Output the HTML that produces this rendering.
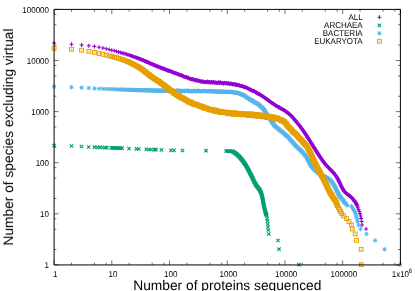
<!DOCTYPE html>
<html><head><meta charset="utf-8"><title>plot</title><style>html,body{margin:0;padding:0;background:#fff}svg{display:block}</style></head><body>
<svg width="415" height="291" viewBox="0 0 415 291">
<defs>
<g id="m_all" stroke="#9400D3" stroke-width="1.1" fill="none"><path d="M-2 0H2M0 -2V2"/></g>
<g id="m_arc" stroke="#009E73" stroke-width="1.15" fill="none"><path d="M-1.7 -1.7L1.7 1.7M-1.7 1.7L1.7 -1.7"/></g>
<g id="m_bac" stroke="#56B4E9" stroke-width="1" fill="none"><path d="M-2.1 0H2.1M0 -2.1V2.1M-1.7 -1.7L1.7 1.7M-1.7 1.7L1.7 -1.7"/></g>
<g id="m_euk" stroke="#E69F00" stroke-width="1" fill="none"><rect x="-1.9" y="-1.9" width="3.8" height="3.8"/><rect x="-0.5" y="-0.5" width="1" height="1" fill="#E69F00" stroke="none"/></g>
</defs>
<rect width="415" height="291" fill="#fff"/>
<path d="M54.10 264.95v-4.6M54.10 9.4v4.6M71.47 264.95v-2.3M71.47 9.4v2.3M94.44 264.95v-2.3M94.44 9.4v2.3M106.22 264.95v-2.3M106.22 9.4v2.3M111.82 264.95v-4.6M111.82 9.4v4.6M129.19 264.95v-2.3M129.19 9.4v2.3M152.16 264.95v-2.3M152.16 9.4v2.3M163.94 264.95v-2.3M163.94 9.4v2.3M169.53 264.95v-4.6M169.53 9.4v4.6M186.91 264.95v-2.3M186.91 9.4v2.3M209.88 264.95v-2.3M209.88 9.4v2.3M221.66 264.95v-2.3M221.66 9.4v2.3M227.25 264.95v-4.6M227.25 9.4v4.6M244.62 264.95v-2.3M244.62 9.4v2.3M267.59 264.95v-2.3M267.59 9.4v2.3M279.37 264.95v-2.3M279.37 9.4v2.3M284.97 264.95v-4.6M284.97 9.4v4.6M302.34 264.95v-2.3M302.34 9.4v2.3M325.31 264.95v-2.3M325.31 9.4v2.3M337.09 264.95v-2.3M337.09 9.4v2.3M342.68 264.95v-4.6M342.68 9.4v4.6M360.06 264.95v-2.3M360.06 9.4v2.3M383.03 264.95v-2.3M383.03 9.4v2.3M394.81 264.95v-2.3M394.81 9.4v2.3M400.40 264.95v-4.6M400.40 9.4v4.6M54.1 264.95h4.6M400.4 264.95h-4.6M54.1 249.56h2.3M400.4 249.56h-2.3M54.1 229.23h2.3M400.4 229.23h-2.3M54.1 218.79h2.3M400.4 218.79h-2.3M54.1 213.84h4.6M400.4 213.84h-4.6M54.1 198.45h2.3M400.4 198.45h-2.3M54.1 178.12h2.3M400.4 178.12h-2.3M54.1 167.68h2.3M400.4 167.68h-2.3M54.1 162.73h4.6M400.4 162.73h-4.6M54.1 147.34h2.3M400.4 147.34h-2.3M54.1 127.01h2.3M400.4 127.01h-2.3M54.1 116.57h2.3M400.4 116.57h-2.3M54.1 111.62h4.6M400.4 111.62h-4.6M54.1 96.23h2.3M400.4 96.23h-2.3M54.1 75.90h2.3M400.4 75.90h-2.3M54.1 65.46h2.3M400.4 65.46h-2.3M54.1 60.51h4.6M400.4 60.51h-4.6M54.1 45.12h2.3M400.4 45.12h-2.3M54.1 24.79h2.3M400.4 24.79h-2.3M54.1 14.35h2.3M400.4 14.35h-2.3M54.1 9.40h4.6M400.4 9.40h-4.6" stroke="#000" stroke-opacity="0.8" stroke-width="0.7" fill="none"/>
<g><use href="#m_all" x="54.1" y="43.0"/><use href="#m_all" x="71.5" y="44.3"/><use href="#m_all" x="81.6" y="45.0"/><use href="#m_all" x="88.8" y="45.8"/><use href="#m_all" x="94.4" y="46.4"/><use href="#m_all" x="99.0" y="47.2"/><use href="#m_all" x="102.9" y="48.0"/><use href="#m_all" x="106.2" y="48.8"/><use href="#m_all" x="109.2" y="49.5"/><use href="#m_all" x="111.8" y="50.2"/><use href="#m_all" x="114.2" y="50.8"/><use href="#m_all" x="116.4" y="51.4"/><use href="#m_all" x="118.4" y="51.9"/><use href="#m_all" x="120.3" y="52.4"/><use href="#m_all" x="122.0" y="52.9"/><use href="#m_all" x="123.6" y="53.4"/><use href="#m_all" x="125.1" y="53.8"/><use href="#m_all" x="126.6" y="54.3"/><use href="#m_all" x="127.9" y="54.7"/><use href="#m_all" x="129.2" y="55.1"/><use href="#m_all" x="130.4" y="55.5"/><use href="#m_all" x="131.6" y="55.9"/><use href="#m_all" x="132.7" y="56.3"/><use href="#m_all" x="133.8" y="56.7"/><use href="#m_all" x="134.8" y="57.1"/><use href="#m_all" x="135.8" y="57.4"/><use href="#m_all" x="136.7" y="57.8"/><use href="#m_all" x="137.6" y="58.1"/><use href="#m_all" x="138.5" y="58.4"/><use href="#m_all" x="139.4" y="58.8"/><use href="#m_all" x="140.2" y="59.1"/><use href="#m_all" x="141.0" y="59.4"/><use href="#m_all" x="141.7" y="59.7"/><use href="#m_all" x="142.5" y="60.0"/><use href="#m_all" x="143.2" y="60.3"/><use href="#m_all" x="143.9" y="60.6"/><use href="#m_all" x="144.6" y="60.9"/><use href="#m_all" x="145.2" y="61.2"/><use href="#m_all" x="145.9" y="61.5"/><use href="#m_all" x="146.5" y="61.8"/><use href="#m_all" x="147.2" y="62.0"/><use href="#m_all" x="147.8" y="62.3"/><use href="#m_all" x="148.5" y="62.6"/><use href="#m_all" x="149.1" y="62.9"/><use href="#m_all" x="149.8" y="63.2"/><use href="#m_all" x="150.4" y="63.5"/><use href="#m_all" x="151.1" y="63.8"/><use href="#m_all" x="151.7" y="64.0"/><use href="#m_all" x="152.4" y="64.2"/><use href="#m_all" x="153.0" y="64.5"/><use href="#m_all" x="153.7" y="65.0"/><use href="#m_all" x="154.3" y="65.0"/><use href="#m_all" x="155.0" y="65.4"/><use href="#m_all" x="155.6" y="65.8"/><use href="#m_all" x="156.3" y="65.8"/><use href="#m_all" x="157.0" y="66.2"/><use href="#m_all" x="157.7" y="66.7"/><use href="#m_all" x="158.4" y="66.6"/><use href="#m_all" x="159.1" y="67.1"/><use href="#m_all" x="159.8" y="67.5"/><use href="#m_all" x="160.5" y="67.4"/><use href="#m_all" x="161.2" y="67.9"/><use href="#m_all" x="161.9" y="68.2"/><use href="#m_all" x="162.6" y="68.5"/><use href="#m_all" x="163.3" y="68.6"/><use href="#m_all" x="164.0" y="68.7"/><use href="#m_all" x="164.7" y="69.2"/><use href="#m_all" x="165.4" y="69.4"/><use href="#m_all" x="166.1" y="69.7"/><use href="#m_all" x="166.8" y="69.9"/><use href="#m_all" x="167.5" y="70.4"/><use href="#m_all" x="168.2" y="70.7"/><use href="#m_all" x="168.9" y="70.6"/><use href="#m_all" x="169.6" y="71.1"/><use href="#m_all" x="170.3" y="71.1"/><use href="#m_all" x="171.0" y="71.5"/><use href="#m_all" x="171.7" y="71.7"/><use href="#m_all" x="172.4" y="72.2"/><use href="#m_all" x="173.1" y="72.2"/><use href="#m_all" x="173.8" y="72.5"/><use href="#m_all" x="174.5" y="73.0"/><use href="#m_all" x="175.2" y="73.0"/><use href="#m_all" x="175.9" y="73.6"/><use href="#m_all" x="176.6" y="73.4"/><use href="#m_all" x="177.3" y="74.0"/><use href="#m_all" x="178.0" y="74.1"/><use href="#m_all" x="178.7" y="74.4"/><use href="#m_all" x="179.4" y="74.8"/><use href="#m_all" x="180.1" y="75.0"/><use href="#m_all" x="180.8" y="75.2"/><use href="#m_all" x="181.5" y="75.2"/><use href="#m_all" x="182.2" y="75.5"/><use href="#m_all" x="182.9" y="76.2"/><use href="#m_all" x="183.6" y="76.3"/><use href="#m_all" x="184.3" y="76.7"/><use href="#m_all" x="185.0" y="77.1"/><use href="#m_all" x="185.7" y="77.2"/><use href="#m_all" x="186.4" y="77.0"/><use href="#m_all" x="187.1" y="77.4"/><use href="#m_all" x="187.8" y="77.9"/><use href="#m_all" x="188.5" y="77.8"/><use href="#m_all" x="189.2" y="78.6"/><use href="#m_all" x="189.9" y="78.8"/><use href="#m_all" x="190.6" y="78.9"/><use href="#m_all" x="191.3" y="78.9"/><use href="#m_all" x="192.0" y="79.4"/><use href="#m_all" x="192.7" y="79.1"/><use href="#m_all" x="193.4" y="79.4"/><use href="#m_all" x="194.1" y="79.8"/><use href="#m_all" x="194.8" y="80.2"/><use href="#m_all" x="195.5" y="80.2"/><use href="#m_all" x="196.2" y="80.1"/><use href="#m_all" x="196.9" y="80.5"/><use href="#m_all" x="197.6" y="80.6"/><use href="#m_all" x="198.3" y="80.8"/><use href="#m_all" x="199.0" y="80.8"/><use href="#m_all" x="199.7" y="81.1"/><use href="#m_all" x="200.4" y="81.2"/><use href="#m_all" x="201.1" y="81.6"/><use href="#m_all" x="201.8" y="81.7"/><use href="#m_all" x="202.5" y="81.5"/><use href="#m_all" x="203.2" y="81.6"/><use href="#m_all" x="203.9" y="81.9"/><use href="#m_all" x="204.6" y="82.0"/><use href="#m_all" x="205.3" y="81.9"/><use href="#m_all" x="206.0" y="82.1"/><use href="#m_all" x="206.7" y="82.3"/><use href="#m_all" x="207.4" y="81.6"/><use href="#m_all" x="208.1" y="82.3"/><use href="#m_all" x="208.8" y="81.9"/><use href="#m_all" x="209.5" y="82.1"/><use href="#m_all" x="210.2" y="82.4"/><use href="#m_all" x="210.9" y="82.4"/><use href="#m_all" x="211.6" y="82.0"/><use href="#m_all" x="212.3" y="82.4"/><use href="#m_all" x="213.0" y="82.0"/><use href="#m_all" x="213.7" y="82.3"/><use href="#m_all" x="214.4" y="82.7"/><use href="#m_all" x="215.1" y="82.4"/><use href="#m_all" x="215.8" y="82.6"/><use href="#m_all" x="216.5" y="82.8"/><use href="#m_all" x="217.2" y="82.9"/><use href="#m_all" x="217.9" y="82.9"/><use href="#m_all" x="218.6" y="82.3"/><use href="#m_all" x="219.3" y="82.7"/><use href="#m_all" x="220.0" y="82.8"/><use href="#m_all" x="220.7" y="82.5"/><use href="#m_all" x="221.4" y="82.9"/><use href="#m_all" x="222.1" y="83.0"/><use href="#m_all" x="222.8" y="83.3"/><use href="#m_all" x="223.5" y="83.4"/><use href="#m_all" x="224.2" y="82.8"/><use href="#m_all" x="224.9" y="83.0"/><use href="#m_all" x="225.6" y="83.4"/><use href="#m_all" x="226.3" y="83.0"/><use href="#m_all" x="227.0" y="83.2"/><use href="#m_all" x="227.7" y="83.5"/><use href="#m_all" x="228.4" y="83.2"/><use href="#m_all" x="229.1" y="83.8"/><use href="#m_all" x="229.8" y="83.9"/><use href="#m_all" x="230.5" y="83.4"/><use href="#m_all" x="231.2" y="83.8"/><use href="#m_all" x="231.9" y="84.1"/><use href="#m_all" x="232.6" y="84.4"/><use href="#m_all" x="233.3" y="83.9"/><use href="#m_all" x="234.0" y="83.9"/><use href="#m_all" x="234.7" y="84.6"/><use href="#m_all" x="235.4" y="84.8"/><use href="#m_all" x="236.1" y="84.4"/><use href="#m_all" x="236.8" y="84.7"/><use href="#m_all" x="237.5" y="85.1"/><use href="#m_all" x="238.2" y="85.3"/><use href="#m_all" x="238.9" y="85.0"/><use href="#m_all" x="239.6" y="85.6"/><use href="#m_all" x="240.3" y="85.9"/><use href="#m_all" x="241.0" y="85.9"/><use href="#m_all" x="241.7" y="85.9"/><use href="#m_all" x="242.4" y="86.1"/><use href="#m_all" x="243.1" y="86.5"/><use href="#m_all" x="243.8" y="87.2"/><use href="#m_all" x="244.5" y="86.9"/><use href="#m_all" x="245.2" y="87.1"/><use href="#m_all" x="245.9" y="87.6"/><use href="#m_all" x="246.5" y="87.7"/><use href="#m_all" x="247.2" y="88.0"/><use href="#m_all" x="247.8" y="88.2"/><use href="#m_all" x="248.5" y="88.8"/><use href="#m_all" x="249.1" y="89.2"/><use href="#m_all" x="249.8" y="89.4"/><use href="#m_all" x="250.4" y="89.4"/><use href="#m_all" x="251.1" y="89.9"/><use href="#m_all" x="251.7" y="90.3"/><use href="#m_all" x="252.4" y="90.8"/><use href="#m_all" x="253.0" y="91.2"/><use href="#m_all" x="253.7" y="91.0"/><use href="#m_all" x="254.3" y="91.1"/><use href="#m_all" x="255.0" y="92.0"/><use href="#m_all" x="255.6" y="92.4"/><use href="#m_all" x="256.3" y="92.4"/><use href="#m_all" x="256.9" y="93.0"/><use href="#m_all" x="257.6" y="93.4"/><use href="#m_all" x="258.2" y="93.6"/><use href="#m_all" x="258.8" y="94.2"/><use href="#m_all" x="259.4" y="94.0"/><use href="#m_all" x="260.0" y="94.6"/><use href="#m_all" x="260.6" y="95.0"/><use href="#m_all" x="261.2" y="95.3"/><use href="#m_all" x="261.8" y="96.1"/><use href="#m_all" x="262.4" y="96.0"/><use href="#m_all" x="263.0" y="96.7"/><use href="#m_all" x="263.6" y="96.8"/><use href="#m_all" x="264.2" y="97.4"/><use href="#m_all" x="264.8" y="97.8"/><use href="#m_all" x="265.4" y="98.1"/><use href="#m_all" x="266.0" y="98.7"/><use href="#m_all" x="266.6" y="99.1"/><use href="#m_all" x="267.2" y="99.5"/><use href="#m_all" x="267.8" y="100.1"/><use href="#m_all" x="268.4" y="100.2"/><use href="#m_all" x="269.0" y="100.7"/><use href="#m_all" x="269.6" y="101.2"/><use href="#m_all" x="270.2" y="101.7"/><use href="#m_all" x="270.8" y="102.0"/><use href="#m_all" x="271.4" y="102.8"/><use href="#m_all" x="272.0" y="103.2"/><use href="#m_all" x="272.6" y="103.2"/><use href="#m_all" x="273.2" y="103.8"/><use href="#m_all" x="273.8" y="104.1"/><use href="#m_all" x="274.4" y="104.6"/><use href="#m_all" x="275.0" y="104.9"/><use href="#m_all" x="275.6" y="105.4"/><use href="#m_all" x="276.2" y="106.0"/><use href="#m_all" x="276.9" y="106.1"/><use href="#m_all" x="277.5" y="106.6"/><use href="#m_all" x="278.2" y="106.9"/><use href="#m_all" x="278.8" y="107.4"/><use href="#m_all" x="279.5" y="107.3"/><use href="#m_all" x="280.1" y="108.1"/><use href="#m_all" x="280.8" y="108.6"/><use href="#m_all" x="281.4" y="108.7"/><use href="#m_all" x="282.1" y="108.9"/><use href="#m_all" x="282.7" y="109.5"/><use href="#m_all" x="283.4" y="109.9"/><use href="#m_all" x="284.0" y="110.2"/><use href="#m_all" x="284.6" y="110.3"/><use href="#m_all" x="285.2" y="111.1"/><use href="#m_all" x="285.8" y="111.5"/><use href="#m_all" x="286.4" y="111.7"/><use href="#m_all" x="287.0" y="112.2"/><use href="#m_all" x="287.6" y="112.4"/><use href="#m_all" x="288.2" y="113.3"/><use href="#m_all" x="288.7" y="113.7"/><use href="#m_all" x="289.3" y="114.1"/><use href="#m_all" x="289.8" y="114.6"/><use href="#m_all" x="290.4" y="114.9"/><use href="#m_all" x="290.9" y="115.5"/><use href="#m_all" x="291.4" y="115.9"/><use href="#m_all" x="291.9" y="116.6"/><use href="#m_all" x="292.4" y="116.9"/><use href="#m_all" x="292.9" y="117.8"/><use href="#m_all" x="293.4" y="118.2"/><use href="#m_all" x="293.9" y="118.8"/><use href="#m_all" x="294.4" y="119.2"/><use href="#m_all" x="294.9" y="120.0"/><use href="#m_all" x="295.3" y="120.6"/><use href="#m_all" x="295.8" y="121.1"/><use href="#m_all" x="296.2" y="121.5"/><use href="#m_all" x="296.7" y="122.2"/><use href="#m_all" x="297.1" y="122.6"/><use href="#m_all" x="297.6" y="123.3"/><use href="#m_all" x="298.0" y="123.8"/><use href="#m_all" x="298.5" y="124.3"/><use href="#m_all" x="298.9" y="124.9"/><use href="#m_all" x="299.4" y="125.5"/><use href="#m_all" x="299.8" y="126.0"/><use href="#m_all" x="300.3" y="126.8"/><use href="#m_all" x="300.7" y="127.2"/><use href="#m_all" x="301.2" y="127.9"/><use href="#m_all" x="301.6" y="128.5"/><use href="#m_all" x="302.1" y="128.9"/><use href="#m_all" x="302.5" y="129.7"/><use href="#m_all" x="303.0" y="130.3"/><use href="#m_all" x="303.4" y="131.0"/><use href="#m_all" x="303.8" y="131.6"/><use href="#m_all" x="304.2" y="132.1"/><use href="#m_all" x="304.6" y="132.8"/><use href="#m_all" x="305.0" y="133.2"/><use href="#m_all" x="305.4" y="133.9"/><use href="#m_all" x="305.8" y="134.5"/><use href="#m_all" x="306.2" y="135.0"/><use href="#m_all" x="306.6" y="135.8"/><use href="#m_all" x="307.0" y="136.4"/><use href="#m_all" x="307.4" y="137.1"/><use href="#m_all" x="307.8" y="137.6"/><use href="#m_all" x="308.2" y="138.2"/><use href="#m_all" x="308.6" y="139.0"/><use href="#m_all" x="309.0" y="139.4"/><use href="#m_all" x="309.4" y="140.0"/><use href="#m_all" x="309.8" y="140.8"/><use href="#m_all" x="310.2" y="141.3"/><use href="#m_all" x="310.6" y="142.0"/><use href="#m_all" x="311.0" y="142.7"/><use href="#m_all" x="311.4" y="143.3"/><use href="#m_all" x="311.8" y="144.0"/><use href="#m_all" x="312.2" y="144.6"/><use href="#m_all" x="312.6" y="145.2"/><use href="#m_all" x="313.0" y="145.8"/><use href="#m_all" x="313.4" y="146.5"/><use href="#m_all" x="313.8" y="147.3"/><use href="#m_all" x="314.2" y="147.8"/><use href="#m_all" x="314.6" y="148.4"/><use href="#m_all" x="315.0" y="149.1"/><use href="#m_all" x="315.4" y="149.8"/><use href="#m_all" x="315.8" y="150.3"/><use href="#m_all" x="316.2" y="151.1"/><use href="#m_all" x="316.6" y="151.6"/><use href="#m_all" x="317.0" y="152.4"/><use href="#m_all" x="317.4" y="152.9"/><use href="#m_all" x="317.8" y="153.4"/><use href="#m_all" x="318.2" y="154.3"/><use href="#m_all" x="318.6" y="154.7"/><use href="#m_all" x="319.0" y="155.4"/><use href="#m_all" x="319.4" y="156.0"/><use href="#m_all" x="319.8" y="156.5"/><use href="#m_all" x="320.2" y="157.1"/><use href="#m_all" x="320.6" y="157.7"/><use href="#m_all" x="321.0" y="158.3"/><use href="#m_all" x="321.4" y="158.9"/><use href="#m_all" x="321.9" y="159.5"/><use href="#m_all" x="322.3" y="160.4"/><use href="#m_all" x="322.8" y="160.8"/><use href="#m_all" x="323.2" y="161.5"/><use href="#m_all" x="323.7" y="162.0"/><use href="#m_all" x="324.1" y="162.6"/><use href="#m_all" x="324.6" y="163.3"/><use href="#m_all" x="325.0" y="163.9"/><use href="#m_all" x="325.5" y="164.4"/><use href="#m_all" x="326.0" y="164.8"/><use href="#m_all" x="326.5" y="165.7"/><use href="#m_all" x="327.0" y="165.9"/><use href="#m_all" x="327.5" y="166.5"/><use href="#m_all" x="328.0" y="167.1"/><use href="#m_all" x="328.5" y="167.7"/><use href="#m_all" x="329.0" y="168.2"/><use href="#m_all" x="329.5" y="168.6"/><use href="#m_all" x="330.0" y="169.1"/><use href="#m_all" x="330.5" y="169.7"/><use href="#m_all" x="331.0" y="170.3"/><use href="#m_all" x="331.5" y="170.8"/><use href="#m_all" x="332.0" y="171.3"/><use href="#m_all" x="332.5" y="171.6"/><use href="#m_all" x="333.0" y="172.2"/><use href="#m_all" x="333.5" y="172.8"/><use href="#m_all" x="334.0" y="173.4"/><use href="#m_all" x="334.5" y="174.1"/><use href="#m_all" x="334.9" y="174.5"/><use href="#m_all" x="335.4" y="175.2"/><use href="#m_all" x="335.8" y="175.7"/><use href="#m_all" x="336.3" y="176.5"/><use href="#m_all" x="336.7" y="177.0"/><use href="#m_all" x="337.1" y="177.7"/><use href="#m_all" x="337.4" y="178.2"/><use href="#m_all" x="337.8" y="178.9"/><use href="#m_all" x="338.1" y="179.7"/><use href="#m_all" x="338.5" y="180.3"/><use href="#m_all" x="338.8" y="181.1"/><use href="#m_all" x="339.2" y="181.8"/><use href="#m_all" x="339.5" y="182.4"/><use href="#m_all" x="339.9" y="183.3"/><use href="#m_all" x="340.2" y="183.8"/><use href="#m_all" x="340.5" y="184.7"/><use href="#m_all" x="340.9" y="185.3"/><use href="#m_all" x="341.2" y="186.1"/><use href="#m_all" x="341.6" y="186.7"/><use href="#m_all" x="341.9" y="187.4"/><use href="#m_all" x="342.3" y="188.2"/><use href="#m_all" x="342.6" y="188.8"/><use href="#m_all" x="343.0" y="189.4"/><use href="#m_all" x="343.4" y="190.1"/><use href="#m_all" x="343.8" y="190.6"/><use href="#m_all" x="344.2" y="191.4"/><use href="#m_all" x="344.7" y="192.0"/><use href="#m_all" x="345.2" y="192.3"/><use href="#m_all" x="345.7" y="192.9"/><use href="#m_all" x="346.3" y="193.3"/><use href="#m_all" x="346.9" y="194.0"/><use href="#m_all" x="347.5" y="194.0"/><use href="#m_all" x="348.1" y="194.7"/><use href="#m_all" x="348.7" y="195.3"/><use href="#m_all" x="349.3" y="195.7"/><use href="#m_all" x="349.9" y="195.8"/><use href="#m_all" x="350.4" y="196.6"/><use href="#m_all" x="351.0" y="196.9"/><use href="#m_all" x="351.5" y="197.6"/><use href="#m_all" x="352.0" y="198.0"/><use href="#m_all" x="352.5" y="198.4"/><use href="#m_all" x="353.0" y="199.2"/><use href="#m_all" x="353.4" y="199.7"/><use href="#m_all" x="353.9" y="200.3"/><use href="#m_all" x="354.3" y="200.9"/><use href="#m_all" x="354.8" y="201.4"/><use href="#m_all" x="355.2" y="201.9"/><use href="#m_all" x="355.6" y="202.5"/><use href="#m_all" x="356.0" y="203.3"/><use href="#m_all" x="356.3" y="203.9"/><use href="#m_all" x="356.7" y="204.6"/><use href="#m_all" x="357.0" y="205.3"/><use href="#m_all" x="357.3" y="205.9"/><use href="#m_all" x="357.8" y="207.8"/><use href="#m_all" x="358.6" y="209.6"/><use href="#m_all" x="359.3" y="211.5"/><use href="#m_all" x="360.0" y="213.6"/><use href="#m_all" x="360.6" y="216.0"/><use href="#m_all" x="361.2" y="218.6"/><use href="#m_all" x="361.7" y="221.5"/><use href="#m_all" x="362.0" y="225.0"/><use href="#m_all" x="366.1" y="229.0"/></g>
<g><use href="#m_arc" x="54.2" y="145.5"/><use href="#m_arc" x="71.5" y="146.0"/><use href="#m_arc" x="81.5" y="146.5"/><use href="#m_arc" x="88.7" y="147.0"/><use href="#m_arc" x="94.5" y="147.2"/><use href="#m_arc" x="97.5" y="147.3"/><use href="#m_arc" x="100.0" y="147.4"/><use href="#m_arc" x="102.5" y="147.5"/><use href="#m_arc" x="105.0" y="147.6"/><use href="#m_arc" x="107.0" y="147.6"/><use href="#m_arc" x="111.3" y="147.8"/><use href="#m_arc" x="112.8" y="147.8"/><use href="#m_arc" x="114.3" y="147.9"/><use href="#m_arc" x="115.8" y="148.0"/><use href="#m_arc" x="117.3" y="148.0"/><use href="#m_arc" x="118.8" y="148.1"/><use href="#m_arc" x="120.3" y="148.2"/><use href="#m_arc" x="122.0" y="148.2"/><use href="#m_arc" x="129.0" y="148.6"/><use href="#m_arc" x="136.3" y="148.9"/><use href="#m_arc" x="138.8" y="149.0"/><use href="#m_arc" x="146.3" y="149.4"/><use href="#m_arc" x="148.8" y="149.5"/><use href="#m_arc" x="151.3" y="149.5"/><use href="#m_arc" x="154.5" y="149.7"/><use href="#m_arc" x="156.0" y="149.7"/><use href="#m_arc" x="161.5" y="149.9"/><use href="#m_arc" x="171.0" y="150.3"/><use href="#m_arc" x="174.0" y="150.4"/><use href="#m_arc" x="182.5" y="150.5"/><use href="#m_arc" x="206.0" y="150.7"/><use href="#m_arc" x="226.0" y="151.0"/><use href="#m_arc" x="227.5" y="151.1"/><use href="#m_arc" x="229.0" y="151.2"/><use href="#m_arc" x="230.5" y="151.3"/><use href="#m_arc" x="232.0" y="151.0"/><use href="#m_arc" x="232.7" y="151.6"/><use href="#m_arc" x="233.4" y="151.8"/><use href="#m_arc" x="234.0" y="152.3"/><use href="#m_arc" x="234.6" y="153.0"/><use href="#m_arc" x="235.2" y="152.9"/><use href="#m_arc" x="235.8" y="153.7"/><use href="#m_arc" x="236.4" y="154.1"/><use href="#m_arc" x="236.9" y="154.4"/><use href="#m_arc" x="237.5" y="154.9"/><use href="#m_arc" x="238.0" y="155.7"/><use href="#m_arc" x="238.6" y="155.8"/><use href="#m_arc" x="239.1" y="156.5"/><use href="#m_arc" x="239.6" y="157.1"/><use href="#m_arc" x="240.1" y="157.4"/><use href="#m_arc" x="240.6" y="158.3"/><use href="#m_arc" x="241.1" y="158.7"/><use href="#m_arc" x="241.5" y="159.2"/><use href="#m_arc" x="242.0" y="159.9"/><use href="#m_arc" x="242.4" y="160.3"/><use href="#m_arc" x="242.9" y="161.0"/><use href="#m_arc" x="243.3" y="161.5"/><use href="#m_arc" x="243.8" y="162.4"/><use href="#m_arc" x="244.2" y="162.9"/><use href="#m_arc" x="244.6" y="163.3"/><use href="#m_arc" x="245.0" y="164.0"/><use href="#m_arc" x="245.4" y="164.7"/><use href="#m_arc" x="245.8" y="165.3"/><use href="#m_arc" x="246.2" y="165.9"/><use href="#m_arc" x="246.6" y="166.6"/><use href="#m_arc" x="247.0" y="167.2"/><use href="#m_arc" x="247.3" y="168.0"/><use href="#m_arc" x="247.7" y="168.4"/><use href="#m_arc" x="248.0" y="169.2"/><use href="#m_arc" x="248.4" y="169.9"/><use href="#m_arc" x="248.7" y="170.5"/><use href="#m_arc" x="249.1" y="171.2"/><use href="#m_arc" x="249.4" y="171.9"/><use href="#m_arc" x="249.8" y="172.6"/><use href="#m_arc" x="250.1" y="173.3"/><use href="#m_arc" x="250.5" y="174.0"/><use href="#m_arc" x="250.8" y="174.6"/><use href="#m_arc" x="251.2" y="175.2"/><use href="#m_arc" x="251.5" y="176.0"/><use href="#m_arc" x="251.9" y="176.7"/><use href="#m_arc" x="252.2" y="177.5"/><use href="#m_arc" x="252.5" y="178.0"/><use href="#m_arc" x="252.8" y="178.7"/><use href="#m_arc" x="253.1" y="179.4"/><use href="#m_arc" x="253.4" y="180.0"/><use href="#m_arc" x="253.7" y="180.7"/><use href="#m_arc" x="254.1" y="181.4"/><use href="#m_arc" x="254.4" y="182.1"/><use href="#m_arc" x="254.8" y="182.7"/><use href="#m_arc" x="255.1" y="183.5"/><use href="#m_arc" x="255.5" y="184.0"/><use href="#m_arc" x="255.8" y="184.6"/><use href="#m_arc" x="256.2" y="185.3"/><use href="#m_arc" x="256.6" y="186.0"/><use href="#m_arc" x="257.1" y="186.5"/><use href="#m_arc" x="257.5" y="187.0"/><use href="#m_arc" x="258.0" y="187.6"/><use href="#m_arc" x="258.5" y="188.3"/><use href="#m_arc" x="258.9" y="188.8"/><use href="#m_arc" x="259.3" y="189.2"/><use href="#m_arc" x="259.7" y="189.9"/><use href="#m_arc" x="260.1" y="190.6"/><use href="#m_arc" x="260.4" y="191.3"/><use href="#m_arc" x="260.7" y="192.0"/><use href="#m_arc" x="261.0" y="192.8"/><use href="#m_arc" x="261.3" y="193.5"/><use href="#m_arc" x="261.5" y="194.3"/><use href="#m_arc" x="261.8" y="195.1"/><use href="#m_arc" x="262.0" y="195.8"/><use href="#m_arc" x="262.2" y="196.6"/><use href="#m_arc" x="262.3" y="197.3"/><use href="#m_arc" x="262.5" y="198.1"/><use href="#m_arc" x="262.6" y="198.9"/><use href="#m_arc" x="262.8" y="199.8"/><use href="#m_arc" x="262.9" y="200.7"/><use href="#m_arc" x="263.1" y="201.5"/><use href="#m_arc" x="263.2" y="202.4"/><use href="#m_arc" x="263.4" y="203.2"/><use href="#m_arc" x="263.5" y="204.0"/><use href="#m_arc" x="263.7" y="204.7"/><use href="#m_arc" x="263.8" y="205.4"/><use href="#m_arc" x="264.0" y="206.1"/><use href="#m_arc" x="264.2" y="207.0"/><use href="#m_arc" x="264.4" y="207.9"/><use href="#m_arc" x="264.6" y="208.7"/><use href="#m_arc" x="264.8" y="209.5"/><use href="#m_arc" x="265.0" y="210.4"/><use href="#m_arc" x="265.2" y="211.1"/><use href="#m_arc" x="265.4" y="211.9"/><use href="#m_arc" x="265.6" y="212.6"/><use href="#m_arc" x="265.8" y="213.4"/><use href="#m_arc" x="266.1" y="214.1"/><use href="#m_arc" x="266.4" y="214.8"/><use href="#m_arc" x="266.7" y="215.5"/><use href="#m_arc" x="267.0" y="218.5"/><use href="#m_arc" x="267.5" y="221.0"/><use href="#m_arc" x="267.8" y="224.0"/><use href="#m_arc" x="268.0" y="227.0"/><use href="#m_arc" x="268.3" y="230.0"/><use href="#m_arc" x="268.8" y="234.0"/><use href="#m_arc" x="278.0" y="240.5"/><use href="#m_arc" x="279.0" y="249.2"/><use href="#m_arc" x="299.0" y="264.7"/></g>
<g><use href="#m_bac" x="54.1" y="86.5"/><use href="#m_bac" x="71.5" y="87.2"/><use href="#m_bac" x="81.6" y="87.7"/><use href="#m_bac" x="88.8" y="88.1"/><use href="#m_bac" x="94.4" y="88.4"/><use href="#m_bac" x="99.0" y="88.7"/><use href="#m_bac" x="102.9" y="88.8"/><use href="#m_bac" x="106.2" y="89.0"/><use href="#m_bac" x="109.2" y="89.1"/><use href="#m_bac" x="111.8" y="89.2"/><use href="#m_bac" x="114.2" y="89.3"/><use href="#m_bac" x="116.4" y="89.4"/><use href="#m_bac" x="118.4" y="89.4"/><use href="#m_bac" x="120.3" y="89.5"/><use href="#m_bac" x="122.0" y="89.6"/><use href="#m_bac" x="123.6" y="89.6"/><use href="#m_bac" x="125.1" y="89.7"/><use href="#m_bac" x="126.6" y="89.7"/><use href="#m_bac" x="127.9" y="89.8"/><use href="#m_bac" x="129.2" y="89.8"/><use href="#m_bac" x="130.4" y="89.9"/><use href="#m_bac" x="131.6" y="89.9"/><use href="#m_bac" x="132.7" y="89.9"/><use href="#m_bac" x="133.8" y="90.0"/><use href="#m_bac" x="134.8" y="90.0"/><use href="#m_bac" x="135.8" y="90.0"/><use href="#m_bac" x="136.7" y="90.1"/><use href="#m_bac" x="137.6" y="90.1"/><use href="#m_bac" x="138.5" y="90.1"/><use href="#m_bac" x="139.4" y="90.1"/><use href="#m_bac" x="140.2" y="90.2"/><use href="#m_bac" x="141.0" y="90.2"/><use href="#m_bac" x="141.7" y="90.2"/><use href="#m_bac" x="142.5" y="90.2"/><use href="#m_bac" x="143.2" y="90.2"/><use href="#m_bac" x="143.9" y="90.3"/><use href="#m_bac" x="144.6" y="90.3"/><use href="#m_bac" x="145.3" y="90.3"/><use href="#m_bac" x="146.0" y="90.3"/><use href="#m_bac" x="146.7" y="90.3"/><use href="#m_bac" x="147.4" y="90.3"/><use href="#m_bac" x="148.1" y="90.3"/><use href="#m_bac" x="148.8" y="90.3"/><use href="#m_bac" x="149.5" y="90.5"/><use href="#m_bac" x="150.2" y="90.5"/><use href="#m_bac" x="150.9" y="90.4"/><use href="#m_bac" x="151.6" y="90.4"/><use href="#m_bac" x="152.3" y="90.6"/><use href="#m_bac" x="153.0" y="90.5"/><use href="#m_bac" x="153.7" y="90.5"/><use href="#m_bac" x="154.4" y="90.5"/><use href="#m_bac" x="155.1" y="90.5"/><use href="#m_bac" x="155.8" y="90.6"/><use href="#m_bac" x="156.5" y="90.6"/><use href="#m_bac" x="157.2" y="90.6"/><use href="#m_bac" x="157.9" y="90.7"/><use href="#m_bac" x="158.6" y="90.4"/><use href="#m_bac" x="159.3" y="90.6"/><use href="#m_bac" x="160.0" y="90.8"/><use href="#m_bac" x="160.7" y="90.5"/><use href="#m_bac" x="161.4" y="90.6"/><use href="#m_bac" x="162.1" y="90.7"/><use href="#m_bac" x="162.8" y="90.6"/><use href="#m_bac" x="163.5" y="90.9"/><use href="#m_bac" x="164.2" y="90.7"/><use href="#m_bac" x="164.9" y="90.7"/><use href="#m_bac" x="165.6" y="90.9"/><use href="#m_bac" x="166.3" y="90.4"/><use href="#m_bac" x="167.0" y="91.0"/><use href="#m_bac" x="167.7" y="90.5"/><use href="#m_bac" x="168.4" y="90.7"/><use href="#m_bac" x="169.1" y="90.7"/><use href="#m_bac" x="169.8" y="90.7"/><use href="#m_bac" x="170.5" y="90.4"/><use href="#m_bac" x="171.2" y="90.7"/><use href="#m_bac" x="171.9" y="90.7"/><use href="#m_bac" x="172.6" y="91.1"/><use href="#m_bac" x="173.3" y="91.1"/><use href="#m_bac" x="174.0" y="90.9"/><use href="#m_bac" x="174.7" y="91.1"/><use href="#m_bac" x="175.4" y="91.1"/><use href="#m_bac" x="176.1" y="90.8"/><use href="#m_bac" x="176.8" y="90.6"/><use href="#m_bac" x="177.5" y="90.9"/><use href="#m_bac" x="178.2" y="90.7"/><use href="#m_bac" x="178.9" y="90.5"/><use href="#m_bac" x="179.6" y="91.2"/><use href="#m_bac" x="180.3" y="91.2"/><use href="#m_bac" x="181.0" y="90.9"/><use href="#m_bac" x="181.7" y="91.0"/><use href="#m_bac" x="182.4" y="91.0"/><use href="#m_bac" x="183.1" y="91.2"/><use href="#m_bac" x="183.8" y="90.9"/><use href="#m_bac" x="184.5" y="91.0"/><use href="#m_bac" x="185.2" y="90.8"/><use href="#m_bac" x="185.9" y="90.8"/><use href="#m_bac" x="186.6" y="91.0"/><use href="#m_bac" x="187.3" y="90.8"/><use href="#m_bac" x="188.0" y="90.7"/><use href="#m_bac" x="188.7" y="90.9"/><use href="#m_bac" x="189.4" y="91.2"/><use href="#m_bac" x="190.1" y="90.9"/><use href="#m_bac" x="190.8" y="91.3"/><use href="#m_bac" x="191.5" y="91.2"/><use href="#m_bac" x="192.2" y="91.2"/><use href="#m_bac" x="192.9" y="91.3"/><use href="#m_bac" x="193.6" y="90.8"/><use href="#m_bac" x="194.3" y="90.9"/><use href="#m_bac" x="195.0" y="91.4"/><use href="#m_bac" x="195.7" y="91.4"/><use href="#m_bac" x="196.4" y="90.8"/><use href="#m_bac" x="197.1" y="91.3"/><use href="#m_bac" x="197.8" y="90.8"/><use href="#m_bac" x="198.5" y="90.9"/><use href="#m_bac" x="199.2" y="90.9"/><use href="#m_bac" x="199.9" y="91.1"/><use href="#m_bac" x="200.6" y="91.1"/><use href="#m_bac" x="201.3" y="91.5"/><use href="#m_bac" x="202.0" y="91.2"/><use href="#m_bac" x="202.7" y="91.0"/><use href="#m_bac" x="203.4" y="91.1"/><use href="#m_bac" x="204.1" y="90.9"/><use href="#m_bac" x="204.8" y="91.0"/><use href="#m_bac" x="205.5" y="91.3"/><use href="#m_bac" x="206.2" y="91.3"/><use href="#m_bac" x="206.9" y="91.1"/><use href="#m_bac" x="207.6" y="91.3"/><use href="#m_bac" x="208.3" y="91.1"/><use href="#m_bac" x="209.0" y="91.5"/><use href="#m_bac" x="209.7" y="91.3"/><use href="#m_bac" x="210.4" y="91.1"/><use href="#m_bac" x="211.1" y="91.4"/><use href="#m_bac" x="211.8" y="91.2"/><use href="#m_bac" x="212.5" y="91.3"/><use href="#m_bac" x="213.2" y="91.2"/><use href="#m_bac" x="213.9" y="91.7"/><use href="#m_bac" x="214.6" y="91.3"/><use href="#m_bac" x="215.3" y="91.8"/><use href="#m_bac" x="216.0" y="91.4"/><use href="#m_bac" x="216.7" y="91.3"/><use href="#m_bac" x="217.4" y="91.7"/><use href="#m_bac" x="218.1" y="91.7"/><use href="#m_bac" x="218.8" y="91.8"/><use href="#m_bac" x="219.5" y="91.3"/><use href="#m_bac" x="220.2" y="91.8"/><use href="#m_bac" x="220.9" y="91.9"/><use href="#m_bac" x="221.6" y="91.5"/><use href="#m_bac" x="222.3" y="91.6"/><use href="#m_bac" x="223.0" y="91.8"/><use href="#m_bac" x="223.7" y="91.5"/><use href="#m_bac" x="224.4" y="92.0"/><use href="#m_bac" x="225.1" y="91.9"/><use href="#m_bac" x="225.8" y="92.1"/><use href="#m_bac" x="226.5" y="91.8"/><use href="#m_bac" x="227.2" y="91.9"/><use href="#m_bac" x="227.9" y="91.7"/><use href="#m_bac" x="228.6" y="91.8"/><use href="#m_bac" x="229.3" y="92.1"/><use href="#m_bac" x="230.0" y="92.3"/><use href="#m_bac" x="230.7" y="91.8"/><use href="#m_bac" x="231.4" y="91.8"/><use href="#m_bac" x="232.1" y="91.9"/><use href="#m_bac" x="232.8" y="92.2"/><use href="#m_bac" x="233.5" y="92.6"/><use href="#m_bac" x="234.2" y="92.3"/><use href="#m_bac" x="234.9" y="92.6"/><use href="#m_bac" x="235.6" y="92.7"/><use href="#m_bac" x="236.3" y="93.1"/><use href="#m_bac" x="237.0" y="92.8"/><use href="#m_bac" x="237.7" y="92.8"/><use href="#m_bac" x="238.4" y="93.3"/><use href="#m_bac" x="239.1" y="93.4"/><use href="#m_bac" x="239.8" y="93.6"/><use href="#m_bac" x="240.5" y="94.2"/><use href="#m_bac" x="241.2" y="94.4"/><use href="#m_bac" x="241.9" y="94.3"/><use href="#m_bac" x="242.6" y="94.8"/><use href="#m_bac" x="243.2" y="95.3"/><use href="#m_bac" x="243.9" y="95.6"/><use href="#m_bac" x="244.5" y="95.5"/><use href="#m_bac" x="245.1" y="96.3"/><use href="#m_bac" x="245.7" y="96.3"/><use href="#m_bac" x="246.3" y="97.1"/><use href="#m_bac" x="246.9" y="97.4"/><use href="#m_bac" x="247.5" y="98.0"/><use href="#m_bac" x="248.1" y="98.3"/><use href="#m_bac" x="248.7" y="98.5"/><use href="#m_bac" x="249.3" y="99.2"/><use href="#m_bac" x="249.9" y="99.3"/><use href="#m_bac" x="250.5" y="100.0"/><use href="#m_bac" x="251.2" y="99.9"/><use href="#m_bac" x="251.8" y="100.5"/><use href="#m_bac" x="252.5" y="101.0"/><use href="#m_bac" x="253.1" y="101.1"/><use href="#m_bac" x="253.8" y="101.7"/><use href="#m_bac" x="254.4" y="102.1"/><use href="#m_bac" x="255.1" y="102.5"/><use href="#m_bac" x="255.7" y="103.0"/><use href="#m_bac" x="256.3" y="103.1"/><use href="#m_bac" x="256.9" y="103.4"/><use href="#m_bac" x="257.5" y="103.9"/><use href="#m_bac" x="258.1" y="104.3"/><use href="#m_bac" x="258.7" y="104.6"/><use href="#m_bac" x="259.3" y="105.3"/><use href="#m_bac" x="259.9" y="105.5"/><use href="#m_bac" x="260.4" y="105.9"/><use href="#m_bac" x="261.0" y="106.8"/><use href="#m_bac" x="261.5" y="107.2"/><use href="#m_bac" x="262.1" y="107.5"/><use href="#m_bac" x="262.6" y="108.0"/><use href="#m_bac" x="263.1" y="108.7"/><use href="#m_bac" x="263.5" y="109.2"/><use href="#m_bac" x="264.0" y="109.7"/><use href="#m_bac" x="264.4" y="110.4"/><use href="#m_bac" x="264.8" y="111.1"/><use href="#m_bac" x="265.2" y="111.6"/><use href="#m_bac" x="265.6" y="112.4"/><use href="#m_bac" x="266.0" y="112.9"/><use href="#m_bac" x="266.4" y="113.5"/><use href="#m_bac" x="266.8" y="114.3"/><use href="#m_bac" x="267.2" y="114.8"/><use href="#m_bac" x="267.6" y="115.4"/><use href="#m_bac" x="268.0" y="116.1"/><use href="#m_bac" x="268.4" y="116.6"/><use href="#m_bac" x="268.8" y="117.3"/><use href="#m_bac" x="269.2" y="117.9"/><use href="#m_bac" x="269.6" y="118.4"/><use href="#m_bac" x="270.0" y="119.0"/><use href="#m_bac" x="270.4" y="119.6"/><use href="#m_bac" x="270.8" y="120.3"/><use href="#m_bac" x="271.2" y="120.9"/><use href="#m_bac" x="271.6" y="121.5"/><use href="#m_bac" x="272.0" y="122.2"/><use href="#m_bac" x="272.4" y="122.8"/><use href="#m_bac" x="272.9" y="123.3"/><use href="#m_bac" x="273.3" y="123.9"/><use href="#m_bac" x="273.8" y="124.5"/><use href="#m_bac" x="274.2" y="125.1"/><use href="#m_bac" x="274.7" y="125.7"/><use href="#m_bac" x="275.2" y="126.2"/><use href="#m_bac" x="275.7" y="126.8"/><use href="#m_bac" x="276.3" y="127.2"/><use href="#m_bac" x="276.8" y="127.6"/><use href="#m_bac" x="277.4" y="128.1"/><use href="#m_bac" x="277.9" y="128.4"/><use href="#m_bac" x="278.5" y="129.1"/><use href="#m_bac" x="279.1" y="129.5"/><use href="#m_bac" x="279.7" y="130.2"/><use href="#m_bac" x="280.3" y="130.6"/><use href="#m_bac" x="280.9" y="130.8"/><use href="#m_bac" x="281.4" y="131.2"/><use href="#m_bac" x="282.0" y="131.9"/><use href="#m_bac" x="282.5" y="132.3"/><use href="#m_bac" x="283.1" y="132.5"/><use href="#m_bac" x="283.6" y="133.2"/><use href="#m_bac" x="284.2" y="133.5"/><use href="#m_bac" x="284.7" y="134.1"/><use href="#m_bac" x="285.3" y="134.6"/><use href="#m_bac" x="285.8" y="135.1"/><use href="#m_bac" x="286.4" y="135.5"/><use href="#m_bac" x="286.9" y="136.1"/><use href="#m_bac" x="287.5" y="136.4"/><use href="#m_bac" x="288.0" y="136.9"/><use href="#m_bac" x="288.5" y="137.4"/><use href="#m_bac" x="289.0" y="138.2"/><use href="#m_bac" x="289.5" y="138.5"/><use href="#m_bac" x="290.0" y="139.2"/><use href="#m_bac" x="290.5" y="139.8"/><use href="#m_bac" x="291.0" y="140.5"/><use href="#m_bac" x="291.5" y="140.9"/><use href="#m_bac" x="292.0" y="141.4"/><use href="#m_bac" x="292.5" y="142.1"/><use href="#m_bac" x="293.0" y="142.6"/><use href="#m_bac" x="293.5" y="143.2"/><use href="#m_bac" x="294.0" y="143.9"/><use href="#m_bac" x="294.5" y="144.3"/><use href="#m_bac" x="295.0" y="145.1"/><use href="#m_bac" x="295.5" y="145.5"/><use href="#m_bac" x="296.0" y="145.9"/><use href="#m_bac" x="296.5" y="146.6"/><use href="#m_bac" x="297.0" y="146.9"/><use href="#m_bac" x="297.6" y="147.5"/><use href="#m_bac" x="298.1" y="148.2"/><use href="#m_bac" x="298.7" y="148.4"/><use href="#m_bac" x="299.2" y="149.1"/><use href="#m_bac" x="299.8" y="149.4"/><use href="#m_bac" x="300.3" y="150.1"/><use href="#m_bac" x="300.9" y="150.6"/><use href="#m_bac" x="301.4" y="151.0"/><use href="#m_bac" x="301.9" y="151.5"/><use href="#m_bac" x="302.4" y="152.1"/><use href="#m_bac" x="302.9" y="152.6"/><use href="#m_bac" x="303.4" y="153.0"/><use href="#m_bac" x="303.9" y="153.7"/><use href="#m_bac" x="304.4" y="154.4"/><use href="#m_bac" x="304.9" y="154.8"/><use href="#m_bac" x="305.3" y="155.5"/><use href="#m_bac" x="305.7" y="155.9"/><use href="#m_bac" x="306.1" y="156.6"/><use href="#m_bac" x="306.5" y="157.3"/><use href="#m_bac" x="306.9" y="158.0"/><use href="#m_bac" x="307.3" y="158.6"/><use href="#m_bac" x="307.6" y="159.3"/><use href="#m_bac" x="308.0" y="159.9"/><use href="#m_bac" x="308.3" y="160.6"/><use href="#m_bac" x="308.7" y="161.3"/><use href="#m_bac" x="309.0" y="161.9"/><use href="#m_bac" x="309.4" y="162.6"/><use href="#m_bac" x="309.7" y="163.2"/><use href="#m_bac" x="310.1" y="163.8"/><use href="#m_bac" x="310.4" y="164.4"/><use href="#m_bac" x="310.8" y="165.2"/><use href="#m_bac" x="311.2" y="165.8"/><use href="#m_bac" x="311.6" y="166.3"/><use href="#m_bac" x="312.1" y="167.0"/><use href="#m_bac" x="312.5" y="167.4"/><use href="#m_bac" x="313.0" y="168.0"/><use href="#m_bac" x="313.5" y="168.6"/><use href="#m_bac" x="314.0" y="169.2"/><use href="#m_bac" x="314.6" y="169.5"/><use href="#m_bac" x="315.1" y="170.0"/><use href="#m_bac" x="315.7" y="170.7"/><use href="#m_bac" x="316.2" y="171.3"/><use href="#m_bac" x="316.8" y="171.7"/><use href="#m_bac" x="317.3" y="172.0"/><use href="#m_bac" x="317.9" y="172.5"/><use href="#m_bac" x="318.5" y="173.0"/><use href="#m_bac" x="319.1" y="173.5"/><use href="#m_bac" x="319.7" y="173.8"/><use href="#m_bac" x="320.3" y="174.4"/><use href="#m_bac" x="320.9" y="174.5"/><use href="#m_bac" x="321.5" y="174.8"/><use href="#m_bac" x="322.2" y="175.2"/><use href="#m_bac" x="322.8" y="175.8"/><use href="#m_bac" x="323.5" y="176.2"/><use href="#m_bac" x="324.1" y="176.3"/><use href="#m_bac" x="324.8" y="176.8"/><use href="#m_bac" x="325.4" y="176.8"/><use href="#m_bac" x="326.1" y="177.3"/><use href="#m_bac" x="326.7" y="177.7"/><use href="#m_bac" x="327.4" y="178.0"/><use href="#m_bac" x="328.0" y="178.3"/><use href="#m_bac" x="328.6" y="178.9"/><use href="#m_bac" x="329.2" y="179.4"/><use href="#m_bac" x="329.7" y="179.8"/><use href="#m_bac" x="330.3" y="180.3"/><use href="#m_bac" x="330.8" y="180.8"/><use href="#m_bac" x="331.3" y="181.4"/><use href="#m_bac" x="331.7" y="181.9"/><use href="#m_bac" x="332.2" y="182.6"/><use href="#m_bac" x="332.6" y="183.1"/><use href="#m_bac" x="333.0" y="183.7"/><use href="#m_bac" x="333.4" y="184.3"/><use href="#m_bac" x="333.8" y="184.9"/><use href="#m_bac" x="334.2" y="185.7"/><use href="#m_bac" x="334.5" y="186.3"/><use href="#m_bac" x="334.9" y="186.8"/><use href="#m_bac" x="335.2" y="187.6"/><use href="#m_bac" x="335.6" y="188.3"/><use href="#m_bac" x="335.9" y="188.9"/><use href="#m_bac" x="336.3" y="189.6"/><use href="#m_bac" x="336.6" y="190.4"/><use href="#m_bac" x="336.9" y="191.1"/><use href="#m_bac" x="337.2" y="191.7"/><use href="#m_bac" x="337.5" y="192.4"/><use href="#m_bac" x="337.9" y="193.0"/><use href="#m_bac" x="338.3" y="193.8"/><use href="#m_bac" x="338.7" y="194.5"/><use href="#m_bac" x="339.1" y="194.9"/><use href="#m_bac" x="339.5" y="195.7"/><use href="#m_bac" x="339.9" y="196.3"/><use href="#m_bac" x="340.3" y="196.9"/><use href="#m_bac" x="340.8" y="197.4"/><use href="#m_bac" x="341.2" y="198.0"/><use href="#m_bac" x="341.7" y="198.7"/><use href="#m_bac" x="342.1" y="199.3"/><use href="#m_bac" x="342.6" y="199.8"/><use href="#m_bac" x="343.0" y="200.4"/><use href="#m_bac" x="343.5" y="200.9"/><use href="#m_bac" x="343.9" y="201.7"/><use href="#m_bac" x="344.4" y="202.2"/><use href="#m_bac" x="344.8" y="202.8"/><use href="#m_bac" x="345.3" y="203.4"/><use href="#m_bac" x="345.8" y="203.8"/><use href="#m_bac" x="346.3" y="204.5"/><use href="#m_bac" x="347.3" y="205.6"/><use href="#m_bac" x="351.5" y="206.2"/><use href="#m_bac" x="352.5" y="207.8"/><use href="#m_bac" x="353.5" y="209.6"/><use href="#m_bac" x="354.6" y="211.5"/><use href="#m_bac" x="355.5" y="213.6"/><use href="#m_bac" x="356.2" y="216.0"/><use href="#m_bac" x="356.9" y="218.6"/><use href="#m_bac" x="357.6" y="221.5"/><use href="#m_bac" x="358.5" y="225.0"/><use href="#m_bac" x="360.5" y="229.0"/><use href="#m_bac" x="366.4" y="234.0"/><use href="#m_bac" x="375.1" y="240.4"/><use href="#m_bac" x="384.5" y="249.3"/><use href="#m_bac" x="400.0" y="264.8"/></g>
<g><use href="#m_euk" x="54.1" y="48.2"/><use href="#m_euk" x="71.5" y="49.2"/><use href="#m_euk" x="81.6" y="50.2"/><use href="#m_euk" x="88.8" y="51.4"/><use href="#m_euk" x="94.4" y="52.4"/><use href="#m_euk" x="99.0" y="53.5"/><use href="#m_euk" x="102.9" y="54.3"/><use href="#m_euk" x="106.2" y="55.1"/><use href="#m_euk" x="109.2" y="55.8"/><use href="#m_euk" x="111.8" y="56.5"/><use href="#m_euk" x="114.2" y="57.1"/><use href="#m_euk" x="116.4" y="57.7"/><use href="#m_euk" x="118.4" y="58.3"/><use href="#m_euk" x="120.3" y="58.9"/><use href="#m_euk" x="122.0" y="59.4"/><use href="#m_euk" x="123.6" y="60.0"/><use href="#m_euk" x="125.1" y="60.5"/><use href="#m_euk" x="126.6" y="61.1"/><use href="#m_euk" x="127.9" y="61.7"/><use href="#m_euk" x="129.2" y="62.2"/><use href="#m_euk" x="130.4" y="62.8"/><use href="#m_euk" x="131.6" y="63.4"/><use href="#m_euk" x="132.7" y="63.9"/><use href="#m_euk" x="133.8" y="64.5"/><use href="#m_euk" x="134.8" y="65.0"/><use href="#m_euk" x="135.8" y="65.5"/><use href="#m_euk" x="136.7" y="66.1"/><use href="#m_euk" x="137.6" y="66.6"/><use href="#m_euk" x="138.5" y="67.1"/><use href="#m_euk" x="139.4" y="67.6"/><use href="#m_euk" x="140.2" y="68.1"/><use href="#m_euk" x="141.0" y="68.6"/><use href="#m_euk" x="141.7" y="69.1"/><use href="#m_euk" x="142.5" y="69.7"/><use href="#m_euk" x="143.2" y="70.2"/><use href="#m_euk" x="143.9" y="70.8"/><use href="#m_euk" x="144.5" y="71.2"/><use href="#m_euk" x="145.1" y="71.7"/><use href="#m_euk" x="145.6" y="72.1"/><use href="#m_euk" x="146.2" y="72.6"/><use href="#m_euk" x="146.7" y="73.0"/><use href="#m_euk" x="147.3" y="73.5"/><use href="#m_euk" x="147.8" y="73.9"/><use href="#m_euk" x="148.4" y="74.3"/><use href="#m_euk" x="149.0" y="74.7"/><use href="#m_euk" x="149.6" y="75.1"/><use href="#m_euk" x="150.2" y="75.7"/><use href="#m_euk" x="150.8" y="76.2"/><use href="#m_euk" x="151.4" y="76.4"/><use href="#m_euk" x="152.0" y="76.9"/><use href="#m_euk" x="152.6" y="77.6"/><use href="#m_euk" x="153.2" y="77.7"/><use href="#m_euk" x="153.8" y="78.4"/><use href="#m_euk" x="154.4" y="78.8"/><use href="#m_euk" x="155.0" y="79.0"/><use href="#m_euk" x="155.6" y="79.5"/><use href="#m_euk" x="156.2" y="79.5"/><use href="#m_euk" x="156.8" y="80.3"/><use href="#m_euk" x="157.4" y="80.9"/><use href="#m_euk" x="158.0" y="80.9"/><use href="#m_euk" x="158.6" y="81.1"/><use href="#m_euk" x="159.2" y="81.5"/><use href="#m_euk" x="159.8" y="82.0"/><use href="#m_euk" x="160.4" y="82.5"/><use href="#m_euk" x="161.0" y="83.4"/><use href="#m_euk" x="161.6" y="83.5"/><use href="#m_euk" x="162.2" y="84.0"/><use href="#m_euk" x="162.8" y="84.2"/><use href="#m_euk" x="163.4" y="84.7"/><use href="#m_euk" x="164.0" y="85.4"/><use href="#m_euk" x="164.6" y="86.0"/><use href="#m_euk" x="165.2" y="85.9"/><use href="#m_euk" x="165.8" y="86.6"/><use href="#m_euk" x="166.4" y="87.3"/><use href="#m_euk" x="167.0" y="88.1"/><use href="#m_euk" x="167.6" y="87.8"/><use href="#m_euk" x="168.2" y="88.4"/><use href="#m_euk" x="168.8" y="89.1"/><use href="#m_euk" x="169.4" y="89.0"/><use href="#m_euk" x="170.0" y="90.1"/><use href="#m_euk" x="170.6" y="91.0"/><use href="#m_euk" x="171.2" y="90.5"/><use href="#m_euk" x="171.8" y="91.2"/><use href="#m_euk" x="172.4" y="91.2"/><use href="#m_euk" x="173.0" y="92.2"/><use href="#m_euk" x="173.6" y="93.2"/><use href="#m_euk" x="174.2" y="93.0"/><use href="#m_euk" x="174.8" y="93.0"/><use href="#m_euk" x="175.4" y="93.5"/><use href="#m_euk" x="176.0" y="94.4"/><use href="#m_euk" x="176.6" y="95.1"/><use href="#m_euk" x="177.2" y="94.9"/><use href="#m_euk" x="177.8" y="95.3"/><use href="#m_euk" x="178.4" y="96.2"/><use href="#m_euk" x="179.0" y="95.6"/><use href="#m_euk" x="179.6" y="97.2"/><use href="#m_euk" x="180.2" y="96.9"/><use href="#m_euk" x="180.8" y="97.0"/><use href="#m_euk" x="181.4" y="98.1"/><use href="#m_euk" x="182.0" y="97.7"/><use href="#m_euk" x="182.7" y="97.9"/><use href="#m_euk" x="183.3" y="98.4"/><use href="#m_euk" x="184.0" y="99.4"/><use href="#m_euk" x="184.6" y="98.9"/><use href="#m_euk" x="185.3" y="99.8"/><use href="#m_euk" x="185.9" y="99.8"/><use href="#m_euk" x="186.6" y="100.6"/><use href="#m_euk" x="187.2" y="100.3"/><use href="#m_euk" x="187.9" y="101.6"/><use href="#m_euk" x="188.5" y="102.2"/><use href="#m_euk" x="189.2" y="101.5"/><use href="#m_euk" x="189.8" y="101.8"/><use href="#m_euk" x="190.5" y="102.5"/><use href="#m_euk" x="191.1" y="103.0"/><use href="#m_euk" x="191.8" y="102.1"/><use href="#m_euk" x="192.4" y="103.5"/><use href="#m_euk" x="193.1" y="104.0"/><use href="#m_euk" x="193.8" y="104.2"/><use href="#m_euk" x="194.5" y="103.9"/><use href="#m_euk" x="195.2" y="104.8"/><use href="#m_euk" x="195.9" y="104.6"/><use href="#m_euk" x="196.6" y="104.2"/><use href="#m_euk" x="197.3" y="104.6"/><use href="#m_euk" x="198.0" y="105.4"/><use href="#m_euk" x="198.7" y="105.6"/><use href="#m_euk" x="199.4" y="106.3"/><use href="#m_euk" x="200.1" y="106.4"/><use href="#m_euk" x="200.8" y="105.8"/><use href="#m_euk" x="201.5" y="106.4"/><use href="#m_euk" x="202.2" y="107.3"/><use href="#m_euk" x="202.9" y="107.0"/><use href="#m_euk" x="203.6" y="106.9"/><use href="#m_euk" x="204.3" y="108.4"/><use href="#m_euk" x="205.0" y="107.8"/><use href="#m_euk" x="205.7" y="107.8"/><use href="#m_euk" x="206.4" y="108.4"/><use href="#m_euk" x="207.1" y="108.3"/><use href="#m_euk" x="207.8" y="108.5"/><use href="#m_euk" x="208.5" y="109.5"/><use href="#m_euk" x="209.2" y="109.9"/><use href="#m_euk" x="209.9" y="109.4"/><use href="#m_euk" x="210.6" y="109.2"/><use href="#m_euk" x="211.3" y="110.0"/><use href="#m_euk" x="212.0" y="110.0"/><use href="#m_euk" x="212.7" y="110.2"/><use href="#m_euk" x="213.4" y="110.0"/><use href="#m_euk" x="214.1" y="111.2"/><use href="#m_euk" x="214.8" y="110.2"/><use href="#m_euk" x="215.5" y="110.1"/><use href="#m_euk" x="216.2" y="111.5"/><use href="#m_euk" x="216.9" y="111.7"/><use href="#m_euk" x="217.6" y="110.9"/><use href="#m_euk" x="218.3" y="110.9"/><use href="#m_euk" x="219.0" y="111.8"/><use href="#m_euk" x="219.7" y="112.5"/><use href="#m_euk" x="220.4" y="111.4"/><use href="#m_euk" x="221.1" y="112.0"/><use href="#m_euk" x="221.8" y="111.6"/><use href="#m_euk" x="222.5" y="112.6"/><use href="#m_euk" x="223.2" y="112.2"/><use href="#m_euk" x="223.9" y="112.1"/><use href="#m_euk" x="224.6" y="112.8"/><use href="#m_euk" x="225.3" y="112.6"/><use href="#m_euk" x="226.0" y="112.0"/><use href="#m_euk" x="226.7" y="112.6"/><use href="#m_euk" x="227.4" y="113.7"/><use href="#m_euk" x="228.1" y="113.5"/><use href="#m_euk" x="228.8" y="113.0"/><use href="#m_euk" x="229.5" y="113.4"/><use href="#m_euk" x="230.2" y="112.4"/><use href="#m_euk" x="230.9" y="113.0"/><use href="#m_euk" x="231.6" y="114.0"/><use href="#m_euk" x="232.3" y="112.7"/><use href="#m_euk" x="233.0" y="114.3"/><use href="#m_euk" x="233.7" y="114.2"/><use href="#m_euk" x="234.4" y="113.9"/><use href="#m_euk" x="235.1" y="113.3"/><use href="#m_euk" x="235.8" y="112.8"/><use href="#m_euk" x="236.5" y="113.3"/><use href="#m_euk" x="237.2" y="114.3"/><use href="#m_euk" x="237.9" y="113.7"/><use href="#m_euk" x="238.6" y="114.5"/><use href="#m_euk" x="239.3" y="113.4"/><use href="#m_euk" x="240.0" y="114.6"/><use href="#m_euk" x="240.7" y="114.8"/><use href="#m_euk" x="241.4" y="114.5"/><use href="#m_euk" x="242.1" y="113.6"/><use href="#m_euk" x="242.8" y="113.6"/><use href="#m_euk" x="243.5" y="113.4"/><use href="#m_euk" x="244.2" y="113.4"/><use href="#m_euk" x="244.9" y="114.8"/><use href="#m_euk" x="245.6" y="114.3"/><use href="#m_euk" x="246.3" y="114.9"/><use href="#m_euk" x="247.0" y="114.0"/><use href="#m_euk" x="247.7" y="114.2"/><use href="#m_euk" x="248.4" y="115.3"/><use href="#m_euk" x="249.1" y="115.6"/><use href="#m_euk" x="249.8" y="113.9"/><use href="#m_euk" x="250.5" y="115.3"/><use href="#m_euk" x="251.2" y="114.9"/><use href="#m_euk" x="251.9" y="113.8"/><use href="#m_euk" x="252.6" y="115.1"/><use href="#m_euk" x="253.3" y="114.5"/><use href="#m_euk" x="254.0" y="114.7"/><use href="#m_euk" x="254.7" y="116.0"/><use href="#m_euk" x="255.4" y="115.6"/><use href="#m_euk" x="256.1" y="114.4"/><use href="#m_euk" x="256.8" y="115.7"/><use href="#m_euk" x="257.5" y="114.5"/><use href="#m_euk" x="258.2" y="116.3"/><use href="#m_euk" x="258.9" y="115.8"/><use href="#m_euk" x="259.6" y="116.0"/><use href="#m_euk" x="260.3" y="114.9"/><use href="#m_euk" x="261.0" y="115.2"/><use href="#m_euk" x="261.7" y="116.1"/><use href="#m_euk" x="262.4" y="116.0"/><use href="#m_euk" x="263.1" y="116.9"/><use href="#m_euk" x="263.8" y="116.0"/><use href="#m_euk" x="264.5" y="116.3"/><use href="#m_euk" x="265.2" y="115.8"/><use href="#m_euk" x="265.9" y="116.6"/><use href="#m_euk" x="266.6" y="117.6"/><use href="#m_euk" x="267.3" y="116.3"/><use href="#m_euk" x="268.0" y="117.5"/><use href="#m_euk" x="268.7" y="116.3"/><use href="#m_euk" x="269.4" y="117.8"/><use href="#m_euk" x="270.1" y="117.2"/><use href="#m_euk" x="270.8" y="116.5"/><use href="#m_euk" x="271.5" y="117.9"/><use href="#m_euk" x="272.2" y="118.2"/><use href="#m_euk" x="272.9" y="116.9"/><use href="#m_euk" x="273.6" y="117.0"/><use href="#m_euk" x="274.3" y="117.4"/><use href="#m_euk" x="275.0" y="118.0"/><use href="#m_euk" x="275.7" y="119.0"/><use href="#m_euk" x="276.4" y="119.0"/><use href="#m_euk" x="277.1" y="118.2"/><use href="#m_euk" x="277.8" y="117.9"/><use href="#m_euk" x="278.5" y="119.2"/><use href="#m_euk" x="279.2" y="119.4"/><use href="#m_euk" x="279.9" y="119.1"/><use href="#m_euk" x="280.6" y="120.0"/><use href="#m_euk" x="281.2" y="120.9"/><use href="#m_euk" x="281.9" y="119.8"/><use href="#m_euk" x="282.5" y="120.5"/><use href="#m_euk" x="283.2" y="121.6"/><use href="#m_euk" x="283.8" y="121.1"/><use href="#m_euk" x="284.3" y="121.6"/><use href="#m_euk" x="284.9" y="122.2"/><use href="#m_euk" x="285.4" y="123.3"/><use href="#m_euk" x="285.9" y="123.3"/><use href="#m_euk" x="286.4" y="123.8"/><use href="#m_euk" x="286.8" y="124.8"/><use href="#m_euk" x="287.3" y="125.5"/><use href="#m_euk" x="287.7" y="126.0"/><use href="#m_euk" x="288.2" y="126.3"/><use href="#m_euk" x="288.6" y="127.3"/><use href="#m_euk" x="289.1" y="127.2"/><use href="#m_euk" x="289.6" y="128.0"/><use href="#m_euk" x="290.1" y="128.5"/><use href="#m_euk" x="290.6" y="129.2"/><use href="#m_euk" x="291.1" y="129.4"/><use href="#m_euk" x="291.6" y="129.8"/><use href="#m_euk" x="292.1" y="131.2"/><use href="#m_euk" x="292.6" y="131.0"/><use href="#m_euk" x="293.1" y="131.7"/><use href="#m_euk" x="293.6" y="132.6"/><use href="#m_euk" x="294.1" y="132.5"/><use href="#m_euk" x="294.6" y="133.0"/><use href="#m_euk" x="295.1" y="133.7"/><use href="#m_euk" x="295.6" y="133.7"/><use href="#m_euk" x="296.1" y="134.2"/><use href="#m_euk" x="296.6" y="135.3"/><use href="#m_euk" x="297.1" y="135.5"/><use href="#m_euk" x="297.6" y="135.8"/><use href="#m_euk" x="298.1" y="136.5"/><use href="#m_euk" x="298.6" y="137.4"/><use href="#m_euk" x="299.1" y="138.0"/><use href="#m_euk" x="299.6" y="138.3"/><use href="#m_euk" x="300.1" y="138.6"/><use href="#m_euk" x="300.6" y="139.7"/><use href="#m_euk" x="301.1" y="139.6"/><use href="#m_euk" x="301.6" y="140.7"/><use href="#m_euk" x="302.1" y="140.6"/><use href="#m_euk" x="302.6" y="141.9"/><use href="#m_euk" x="303.1" y="142.3"/><use href="#m_euk" x="303.6" y="142.6"/><use href="#m_euk" x="304.1" y="143.1"/><use href="#m_euk" x="304.6" y="143.8"/><use href="#m_euk" x="305.1" y="144.5"/><use href="#m_euk" x="305.6" y="144.9"/><use href="#m_euk" x="306.0" y="145.6"/><use href="#m_euk" x="306.5" y="145.8"/><use href="#m_euk" x="306.9" y="146.6"/><use href="#m_euk" x="307.4" y="147.5"/><use href="#m_euk" x="307.8" y="147.9"/><use href="#m_euk" x="308.2" y="148.8"/><use href="#m_euk" x="308.6" y="149.3"/><use href="#m_euk" x="308.9" y="149.8"/><use href="#m_euk" x="309.3" y="150.7"/><use href="#m_euk" x="309.6" y="151.2"/><use href="#m_euk" x="310.0" y="152.0"/><use href="#m_euk" x="310.3" y="152.7"/><use href="#m_euk" x="310.6" y="153.4"/><use href="#m_euk" x="310.9" y="153.8"/><use href="#m_euk" x="311.2" y="154.7"/><use href="#m_euk" x="311.5" y="155.3"/><use href="#m_euk" x="311.8" y="155.9"/><use href="#m_euk" x="312.1" y="156.5"/><use href="#m_euk" x="312.4" y="157.4"/><use href="#m_euk" x="312.7" y="158.1"/><use href="#m_euk" x="313.0" y="158.6"/><use href="#m_euk" x="313.3" y="159.2"/><use href="#m_euk" x="313.6" y="160.1"/><use href="#m_euk" x="313.9" y="160.5"/><use href="#m_euk" x="314.2" y="161.1"/><use href="#m_euk" x="314.5" y="161.9"/><use href="#m_euk" x="314.8" y="162.6"/><use href="#m_euk" x="315.1" y="163.0"/><use href="#m_euk" x="315.5" y="163.8"/><use href="#m_euk" x="315.8" y="164.5"/><use href="#m_euk" x="316.2" y="165.2"/><use href="#m_euk" x="316.5" y="165.9"/><use href="#m_euk" x="316.9" y="166.5"/><use href="#m_euk" x="317.2" y="167.2"/><use href="#m_euk" x="317.6" y="168.0"/><use href="#m_euk" x="317.9" y="168.5"/><use href="#m_euk" x="318.3" y="169.4"/><use href="#m_euk" x="318.6" y="169.9"/><use href="#m_euk" x="319.0" y="170.4"/><use href="#m_euk" x="319.3" y="171.3"/><use href="#m_euk" x="319.7" y="172.0"/><use href="#m_euk" x="320.0" y="172.5"/><use href="#m_euk" x="320.4" y="172.9"/><use href="#m_euk" x="320.7" y="173.9"/><use href="#m_euk" x="321.1" y="174.6"/><use href="#m_euk" x="321.4" y="175.3"/><use href="#m_euk" x="321.8" y="175.8"/><use href="#m_euk" x="322.1" y="176.4"/><use href="#m_euk" x="322.5" y="177.0"/><use href="#m_euk" x="322.8" y="177.6"/><use href="#m_euk" x="323.2" y="178.2"/><use href="#m_euk" x="323.5" y="179.2"/><use href="#m_euk" x="323.9" y="179.8"/><use href="#m_euk" x="324.2" y="180.4"/><use href="#m_euk" x="324.6" y="181.0"/><use href="#m_euk" x="324.9" y="181.8"/><use href="#m_euk" x="325.3" y="182.7"/><use href="#m_euk" x="325.6" y="183.2"/><use href="#m_euk" x="325.9" y="183.7"/><use href="#m_euk" x="326.2" y="184.5"/><use href="#m_euk" x="326.5" y="185.1"/><use href="#m_euk" x="326.8" y="185.9"/><use href="#m_euk" x="327.1" y="186.5"/><use href="#m_euk" x="327.4" y="187.1"/><use href="#m_euk" x="327.7" y="187.9"/><use href="#m_euk" x="328.0" y="188.6"/><use href="#m_euk" x="328.4" y="189.1"/><use href="#m_euk" x="328.7" y="189.8"/><use href="#m_euk" x="329.1" y="190.6"/><use href="#m_euk" x="329.4" y="191.1"/><use href="#m_euk" x="329.8" y="192.1"/><use href="#m_euk" x="330.1" y="192.7"/><use href="#m_euk" x="330.5" y="193.1"/><use href="#m_euk" x="330.9" y="194.1"/><use href="#m_euk" x="331.3" y="194.6"/><use href="#m_euk" x="331.7" y="195.0"/><use href="#m_euk" x="332.1" y="195.9"/><use href="#m_euk" x="332.5" y="196.6"/><use href="#m_euk" x="332.9" y="197.2"/><use href="#m_euk" x="333.3" y="198.0"/><use href="#m_euk" x="333.7" y="198.6"/><use href="#m_euk" x="334.2" y="198.9"/><use href="#m_euk" x="334.6" y="199.5"/><use href="#m_euk" x="335.0" y="199.9"/><use href="#m_euk" x="335.4" y="200.8"/><use href="#m_euk" x="335.7" y="201.3"/><use href="#m_euk" x="336.1" y="202.0"/><use href="#m_euk" x="336.4" y="202.9"/><use href="#m_euk" x="336.7" y="203.5"/><use href="#m_euk" x="336.9" y="204.2"/><use href="#m_euk" x="337.2" y="205.1"/><use href="#m_euk" x="337.4" y="205.8"/><use href="#m_euk" x="338.5" y="207.8"/><use href="#m_euk" x="339.5" y="209.6"/><use href="#m_euk" x="340.5" y="211.5"/><use href="#m_euk" x="341.8" y="213.6"/><use href="#m_euk" x="343.5" y="216.0"/><use href="#m_euk" x="346.5" y="218.6"/><use href="#m_euk" x="349.0" y="221.5"/><use href="#m_euk" x="351.5" y="225.0"/><use href="#m_euk" x="352.3" y="229.0"/><use href="#m_euk" x="355.2" y="234.0"/><use href="#m_euk" x="356.5" y="240.4"/><use href="#m_euk" x="361.1" y="249.3"/><use href="#m_euk" x="361.3" y="264.7"/></g>
<path d="M54.1 9.4V264.95H400.4V9.4Z" stroke="#000" stroke-width="1" fill="none"/>
<g font-family="Liberation Sans, sans-serif" font-size="8.5" fill="#000" text-rendering="geometricPrecision" style="filter:grayscale(1)">
<text transform="translate(49.0,268.1) scale(0.94,1)" text-anchor="end">1</text>
<text transform="translate(49.0,217.0) scale(0.94,1)" text-anchor="end">10</text>
<text transform="translate(49.0,165.9) scale(0.94,1)" text-anchor="end">100</text>
<text transform="translate(49.0,114.8) scale(0.94,1)" text-anchor="end">1000</text>
<text transform="translate(49.0,63.7) scale(0.94,1)" text-anchor="end">10000</text>
<text transform="translate(49.0,12.6) scale(0.94,1)" text-anchor="end">100000</text>
<text transform="translate(55.3,276.5) scale(0.94,1)" text-anchor="middle">1</text>
<text transform="translate(113.0,276.5) scale(0.94,1)" text-anchor="middle">10</text>
<text transform="translate(170.7,276.5) scale(0.94,1)" text-anchor="middle">100</text>
<text transform="translate(228.4,276.5) scale(0.94,1)" text-anchor="middle">1000</text>
<text transform="translate(286.2,276.5) scale(0.94,1)" text-anchor="middle">10000</text>
<text transform="translate(343.9,276.5) scale(0.94,1)" text-anchor="middle">100000</text>
<text transform="translate(391.7,276.5) scale(0.94,1)">1x10<tspan dy="-4.0" dx="-0.4" font-size="6.3">6</tspan></text>
<text transform="translate(362.7,20.4) scale(0.94,1)" text-anchor="end">ALL</text>
<text transform="translate(362.7,28.4) scale(0.94,1)" text-anchor="end">ARCHAEA</text>
<text transform="translate(362.7,36.3) scale(0.94,1)" text-anchor="end">BACTERIA</text>
<text transform="translate(362.7,44.3) scale(0.94,1)" text-anchor="end">EUKARYOTA</text>
</g>
<use href="#m_all" x="379.4" y="17.3"/>
<use href="#m_arc" x="379.4" y="25.3"/>
<use href="#m_bac" x="379.4" y="33.3"/>
<use href="#m_euk" x="379.4" y="41.3"/>
<g font-family="Liberation Sans, sans-serif" font-size="13.75" fill="#000" text-rendering="geometricPrecision" style="filter:grayscale(1)">
<text x="227.3" y="290" text-anchor="middle">Number of proteins sequenced</text>
<text transform="translate(13,137.1) rotate(-90)" text-anchor="middle">Number of species excluding virtual</text>
</g>
</svg>
</body></html>
